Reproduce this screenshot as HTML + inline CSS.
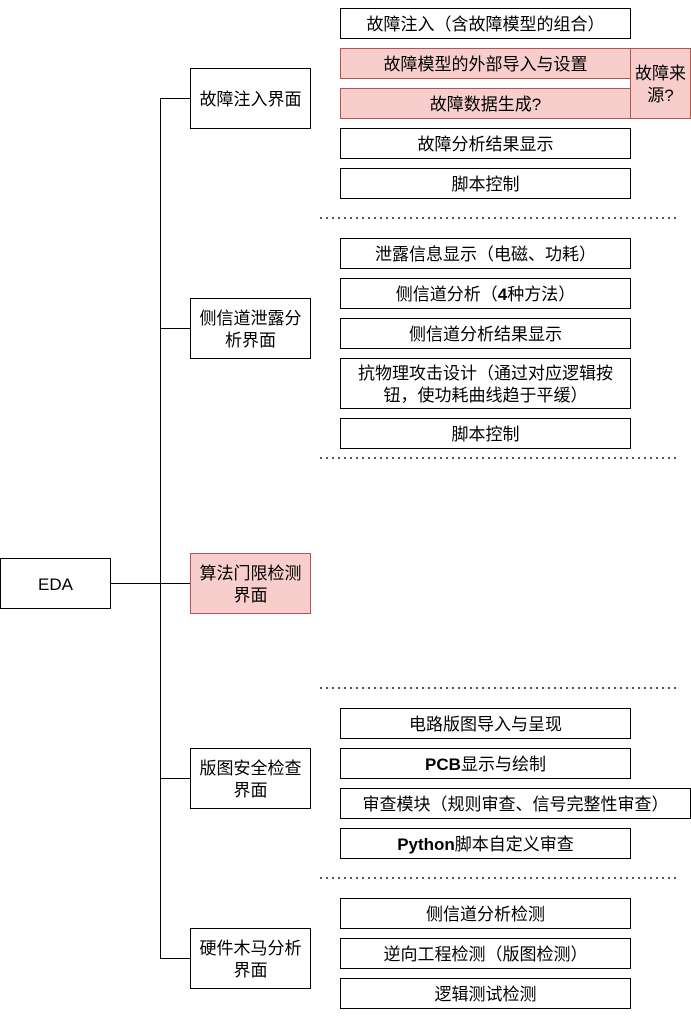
<!DOCTYPE html>
<html><head><meta charset="utf-8"><style>
body{margin:0;width:691px;height:1017px;background:#fff;position:relative;overflow:hidden;font-family:"Liberation Sans","Noto Sans CJK SC",sans-serif;font-size:17px;color:#000}
.b{position:absolute;box-sizing:border-box;border:1px solid #000;background:#fff;display:flex;align-items:center;justify-content:center;text-align:center;line-height:22px;padding-top:3px}
.r{background:#f8cecc;border-color:#b85450}
.h{position:absolute;height:1px;background:#000}
.d{position:absolute;left:320px;width:356px;height:2px;background:repeating-linear-gradient(90deg,#555 0 2px,transparent 2px 6px)}
</style></head><body>
<div class="h" style="left:160px;top:98px;width:1px;height:861px"></div>
<div class="h" style="left:110px;top:583px;width:80px"></div>
<div class="h" style="left:160px;top:98px;width:30px"></div>
<div class="h" style="left:160px;top:328px;width:30px"></div>
<div class="h" style="left:160px;top:778px;width:30px"></div>
<div class="h" style="left:160px;top:958px;width:30px"></div>

<div class="b" style="left:0;top:558px;width:111px;height:51px">EDA</div>
<div class="b" style="left:190px;top:68px;width:121px;height:61px">故障注入界面</div>
<div class="b" style="left:190px;top:298px;width:121px;height:61px;padding:3px 3px 0">侧信道泄露分析界面</div>
<div class="b r" style="left:190px;top:553px;width:121px;height:61px;padding:3px 3px 0">算法门限检测界面</div>
<div class="b" style="left:190px;top:748px;width:121px;height:61px;padding:3px 3px 0">版图安全检查界面</div>
<div class="b" style="left:190px;top:928px;width:121px;height:61px;padding:3px 3px 0">硬件木马分析界面</div>

<div class="b" style="left:340px;top:8px;width:291px;height:31px">故障注入（含故障模型的组合）</div>
<div class="b r" style="left:340px;top:48px;width:291px;height:31px">故障模型的外部导入与设置</div>
<div class="b r" style="left:340px;top:88px;width:291px;height:31px">故障数据生成?</div>
<div class="b r" style="left:630px;top:48px;width:61px;height:71px;padding:3px 1px 0">故障来源?</div>
<div class="b" style="left:340px;top:128px;width:291px;height:31px">故障分析结果显示</div>
<div class="b" style="left:340px;top:168px;width:291px;height:31px">脚本控制</div>
<div class="d" style="top:217px"></div>

<div class="b" style="left:340px;top:238px;width:291px;height:31px">泄露信息显示（电磁、功耗）</div>
<div class="b" style="left:340px;top:278px;width:291px;height:31px"><span>侧信道分析（<b>4</b>种方法）</span></div>
<div class="b" style="left:340px;top:318px;width:291px;height:31px">侧信道分析结果显示</div>
<div class="b" style="left:340px;top:358px;width:291px;height:51px;padding:3px 6px 0">抗物理攻击设计（通过对应逻辑按<br>钮，使功耗曲线趋于平缓）</div>
<div class="b" style="left:340px;top:418px;width:291px;height:31px">脚本控制</div>
<div class="d" style="top:457px"></div>

<div class="d" style="top:687px"></div>
<div class="b" style="left:340px;top:708px;width:291px;height:31px">电路版图导入与呈现</div>
<div class="b" style="left:340px;top:748px;width:291px;height:31px"><span><b>PCB</b>显示与绘制</span></div>
<div class="b" style="left:340px;top:788px;width:351px;height:31px">审查模块（规则审查、信号完整性审查）</div>
<div class="b" style="left:340px;top:828px;width:291px;height:31px"><span><b>Python</b>脚本自定义审查</span></div>
<div class="d" style="top:877px"></div>

<div class="b" style="left:340px;top:898px;width:291px;height:31px">侧信道分析检测</div>
<div class="b" style="left:340px;top:938px;width:291px;height:31px">逆向工程检测（版图检测）</div>
<div class="b" style="left:340px;top:978px;width:291px;height:31px">逻辑测试检测</div>
</body></html>
